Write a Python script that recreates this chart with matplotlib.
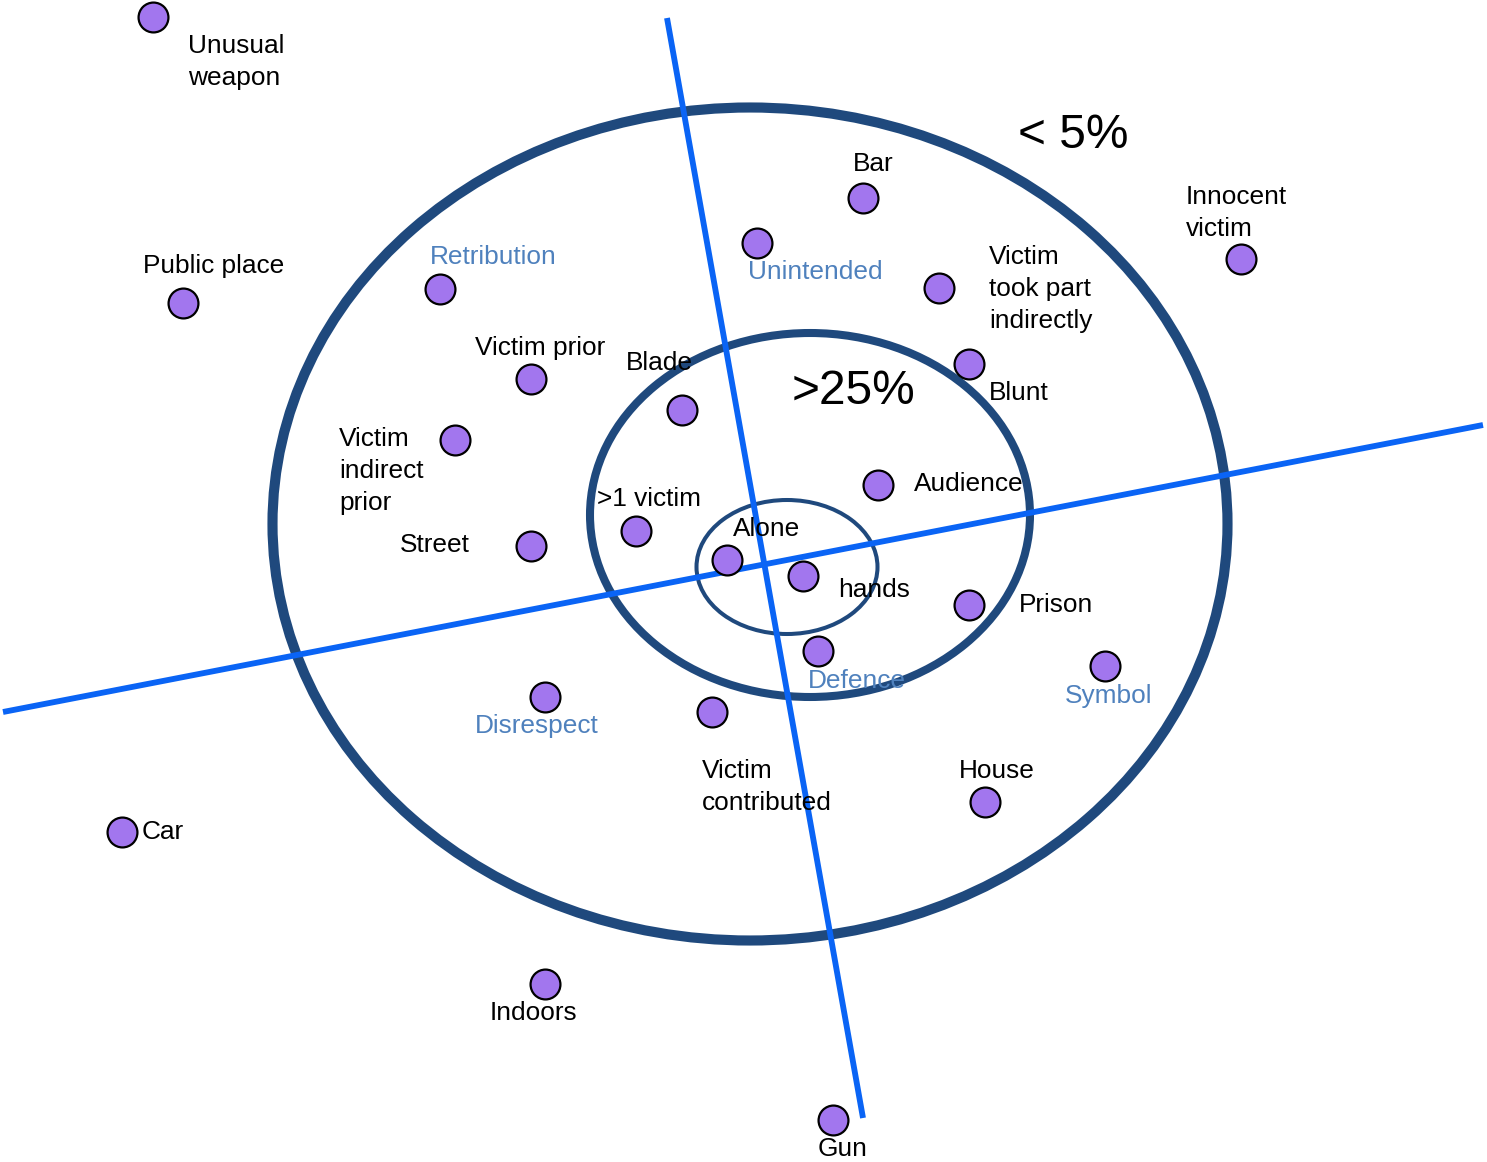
import matplotlib.pyplot as plt
from matplotlib.patches import Ellipse

plt.rcParams['font.family'] = ['Liberation Sans', 'DejaVu Sans']

# dots (pixel positions in the picture)
dot_x = [153, 183, 440, 531, 455, 531, 682, 636, 727, 803, 818, 757, 863, 939,
         969, 878, 969, 1105, 1241, 985, 712, 545, 122, 545, 833]
dot_y = [17, 303, 289, 379, 440, 546, 410, 531, 560, 576, 651, 243, 198, 288,
         364, 485, 605, 666, 259, 802, 712, 697, 832, 984, 1120]

# labels: text, left x, centre y, themed (blue) or not
labels = ["Unusual\nweapon", "Public place", "Retribution", "Victim prior",
          "Victim\nindirect\nprior", "Street", "Blade", ">1 victim", "Alone",
          "hands", "Defence", "Unintended", "Bar", "Victim\ntook part\nindirectly",
          "Blunt", "Audience", "Prison", "Symbol", "Innocent\nvictim", "House",
          "Victim\ncontributed", "Disrespect", "Car", "Indoors", "Gun"]
label_x = [188, 143, 430, 475, 339, 400, 626, 597, 733, 838, 808, 748, 853, 989,
           989, 914, 1019, 1065, 1186, 959, 702, 475, 142, 490, 818]
label_y = [62, 266, 257, 348, 471, 545, 363, 499, 529, 590, 681, 272, 164, 289,
           393, 484, 605, 696, 213, 771, 787, 726, 832, 1013, 1149]
themes = ["Retribution", "Unintended", "Defence", "Symbol", "Disrespect"]

# rings: centre x, centre y, width, height, line width
rings = [(750, 524, 955, 833, 7.3), (810, 515, 440, 364, 5.8), (787, 567, 181, 134, 2.9)]
# axis lines
axis_lines = [((667, 863), (18, 1118)), ((3, 1483), (712, 425))]

fig = plt.figure(figsize=(14.87, 11.62), dpi=100)
ax = fig.add_axes([0, 0, 1, 1])
ax.set_xlim(0, 1487)
ax.set_ylim(1162, 0)
ax.axis('off')

for cx, cy, w, h, lw in rings:
    ax.add_patch(Ellipse((cx, cy), w, h, fill=False, edgecolor='#1f497d', lw=lw, zorder=1))

for xs, ys in axis_lines:
    ax.plot(xs, ys, color='#0a64f5', lw=4.2, solid_capstyle='butt', zorder=2)

ax.scatter(dot_x, dot_y, s=21.5**2, c='#a276ee', edgecolors='black', linewidths=1.6, zorder=3)

for t, x, y in zip(labels, label_x, label_y):
    col = '#4f81bd' if t in themes else 'black'
    ax.text(x, y, t, ha='left', va='center', fontsize=18.9, color=col,
            linespacing=1.42, zorder=4)

ax.text(1018, 135, "< 5%", ha='left', va='center', fontsize=34.5, zorder=4)
ax.text(792, 391, ">25%", ha='left', va='center', fontsize=34.5, zorder=4)

fig.savefig('out.png', dpi=100)
